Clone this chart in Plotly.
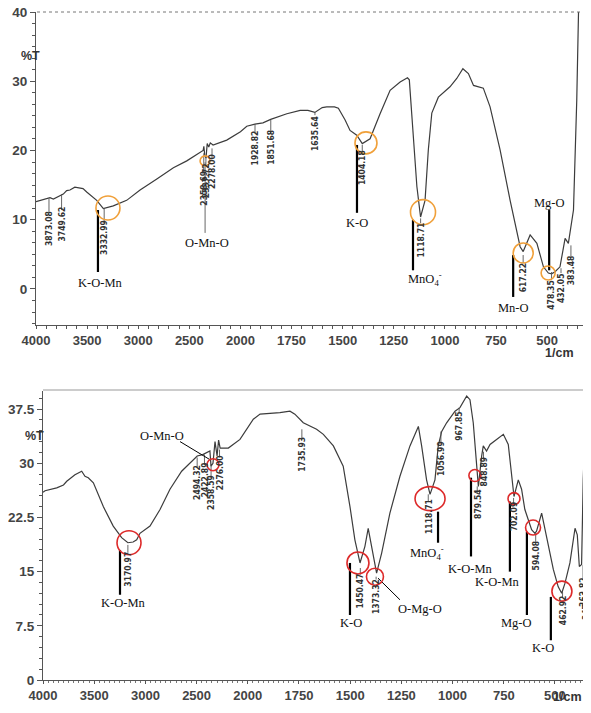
import numpy as np
import plotly.graph_objects as go

# ---------------- data (wavenumber in 1/cm, transmittance %T) ----------------
top_wn = [4000, 3863, 3830, 3733, 3700, 3668, 3620, 3570, 3540, 3504, 3406, 3341, 3300, 3244,
          3113, 2982, 2818, 2656, 2525, 2396, 2365, 2358, 2350, 2337, 2325, 2310, 2295, 2268,
          2134, 2000, 1969, 1929, 1890, 1852, 1800, 1773, 1708, 1670, 1636, 1600, 1578, 1540,
          1521, 1488, 1464, 1431, 1404, 1366, 1317, 1268, 1219, 1183, 1174, 1154, 1137, 1119,
          1097, 1081, 1064, 1032, 975, 942, 912, 885, 860, 812, 779, 730, 681, 632, 617, 583,
          550, 518, 494, 478, 461, 437, 412, 396, 371, 355, 343]
top_T = [12.6, 13.2, 13.0, 13.7, 14.2, 14.3, 14.7, 14.6, 14.5, 14.0, 12.8, 11.6, 11.8, 12.0,
         12.8, 14.3, 15.9, 17.5, 18.5, 19.7, 20.0, 20.6, 19.4, 18.9, 21.0, 20.5, 21.1, 20.8,
         21.5, 22.7, 23.5, 23.8, 24.0, 24.5, 25.0, 25.3, 25.8, 25.8, 25.5, 26.2, 26.3, 26.3,
         26.1, 24.4, 22.9, 22.2, 21.0, 21.7, 25.3, 28.7, 29.9, 30.5, 30.2, 21.5, 14.8, 10.4,
         12.8, 20.1, 25.4, 27.7, 29.2, 30.4, 31.8, 31.1, 29.4, 29.0, 26.3, 20.1, 12.8, 6.1, 5.4, 7.8,
         6.6, 3.2, 2.3, 2.2, 2.5, 3.2, 7.3, 6.6, 11.4, 27.3, 45.0]

bot_wn = [4000, 3980, 3866, 3800, 3768, 3720, 3688, 3622, 3590, 3558, 3508, 3411, 3314, 3232,
          3171, 3120, 3085, 3053, 2955, 2857, 2760, 2646, 2548, 2494, 2440, 2400, 2370, 2359,
          2340, 2320, 2300, 2285, 2270, 2190, 2076, 1973, 1940, 1843, 1794, 1770, 1745, 1729,
          1664, 1631, 1582, 1534, 1501, 1477, 1452, 1428, 1412, 1395, 1371, 1346, 1306, 1257,
          1208, 1167, 1151, 1127, 1110, 1086, 1070, 1053, 1029, 988, 964, 931, 915, 899, 882,
          874, 858, 850, 834, 817, 785, 752, 728, 711, 700, 679, 663, 647, 630, 614, 598, 590,
          565, 541, 508, 484, 467, 451, 427, 402, 391, 381, 370, 362, 354, 346, 337, 330]
bot_T = [26.0, 26.2, 26.6, 27.0, 27.5, 28.0, 28.4, 28.9, 28.2, 28.0, 27.3, 24.0, 21.3, 19.7,
         19.0, 19.1, 19.4, 20.3, 21.3, 23.6, 26.4, 28.9, 30.3, 31.0, 31.2, 31.5, 31.7, 29.6,
         30.0, 33.0, 31.0, 33.2, 32.1, 32.1, 33.3, 36.1, 36.8, 37.0, 37.2, 36.8, 36.1, 35.6,
         34.7, 34.0, 32.4, 29.6, 24.0, 19.4, 16.2, 18.5, 21.0, 18.5, 14.8, 17.6, 23.1, 28.2,
         32.4, 35.1, 32.4, 27.7, 25.7, 27.7, 32.4, 34.4, 35.6, 37.2, 37.7, 39.3, 38.8, 35.6, 28.7,
         26.8, 31.0, 32.4, 31.7, 32.6, 33.3, 34.0, 32.6, 28.7, 25.4, 27.7, 26.4, 23.6, 22.2, 20.8, 20.3, 20.6,
         23.1, 19.9, 15.3, 12.9, 12.0, 13.4, 16.2, 21.0, 20.1, 15.7, 16.0, 27.7, 34.2, 30.0, 34.7, 37.0]

x_tick_labels = [4000, 3500, 3000, 2500, 2000, 1750, 1500, 1250, 1000, 750, 500]
top_y_ticks = [0, 10, 20, 30, 40]
bot_y_ticks = [0, 7.5, 15, 22.5, 30, 37.5]

top_peaks = [3873.08, 3749.62, 3332.99, 2358.69, 2337.72, 2278.00, 1928.82, 1851.68, 1635.64,
             1404.18, 1118.71, 617.22, 478.35, 432.05, 383.48, 300.00]
bot_peaks = [3170.97, 2494.32, 2422.89, 2358.59, 2276.00, 1735.93, 1450.47, 1373.32, 1118.71,
             1056.99, 967.85, 879.54, 848.89, 702.09, 594.08, 462.92, 362.82, 347.19]

top_groups = ["K-O-Mn", "O-Mn-O", "K-O", "MnO<sub>4</sub><sup>-</sup>", "Mn-O", "Mg-O"]
bot_groups = ["K-O-Mn", "O-Mn-O", "K-O", "O-Mg-O", "MnO<sub>4</sub><sup>-</sup>", "K-O-Mn",
              "K-O-Mn", "Mg-O", "K-O"]

# ---------------- layout helpers (positions / styles) ----------------
def to_u(w):
    """Shimadzu style axis: 4000-2000 compressed 2x relative to 2000-300."""
    w = np.asarray(w, dtype=float)
    return np.where(w > 2000, 2000 + (w - 2000) / 2.0, w)

# label text centre %T, tick line top, tick line bottom
top_peak_pos = [(8.8, 13.1, 11.0), (9.4, 13.7, 11.4), (7.4, 11.7, 9.5), (14.6, 19.6, 16.7),
                (15.7, 19.3, 17.6), (16.9, 20.3, 18.9), (20.3, 23.8, 22.5), (20.5, 24.4, 22.5),
                (22.5, 25.5, 25.1), (17.5, 20.8, 19.8), (7.1, 10.2, 9.5), (1.7, 4.9, 3.75),
                (-0.9, 2.45, 1.3), (0.14, 3.0, 2.3), (2.7, 6.3, 4.6), (12.4, None, None)]
bot_peak_pos = [(15.4, 18.7, 17.6), (27.3, 30.8, 29.4), (27.7, 31.2, 29.8), (25.9, 29.8, 28.0),
                (28.7, 31.9, 30.8), (31.3, 34.7, 33.3), (12.3, 15.5, 14.6), (11.5, 14.3, 13.9),
                (22.6, 25.7, 24.7), (30.7, 34.4, 32.9), (35.2, 37.7, 37.0), (24.4, 26.8, 25.9),
                (28.8, 31.6, 30.5), (22.6, 25.2, 24.3), (17.2, 20.4, 19.0), (9.6, 12.2, 11.4),
                (12.2, 15.9, 13.9), (10.4, 13.2, 12.1)]

# group label (w, T), pointer line (w1, T1, w2, T2, width, colour)
top_group_pos = [(3374, 0.9), (2327, 6.6), (1430, 9.5), (1097, 1.4), (666, -2.7), (490, 12.4)]
top_group_lines = [(3394, 11.4, 3394, 2.45, 2.2, "black"), (2346, 18.3, 2346, 8.1, 1.0, "#666"),
                   (1430, 20.8, 1430, 11.0, 2.2, "black"), (1156, 10.0, 1156, 2.7, 2.2, "black"),
                   (666, 4.9, 666, -1.15, 2.2, "black"), (490, 11.4, 490, 2.7, 2.2, "black")]
bot_group_pos = [(3219, 10.7), (2838, 33.8), (1496, 7.9), (1159, 9.85), (1125, 17.6),
                 (915, 15.4), (783, 13.6), (686, 7.9), (559, 4.4)]
bot_group_lines = [(3248, 18.0, 3248, 11.8, 2.2, "black"), (2662, 33.0, 2370, 30.5, 1.0, "black"),
                   (1501, 16.2, 1501, 9.0, 2.2, "black"), (1364, 14.1, 1257, 11.1, 1.0, "black"),
                   (1071, 23.3, 1071, 19.0, 2.2, "black"), (910, 28.0, 910, 17.1, 2.2, "black"),
                   (720, 24.7, 720, 15.0, 2.2, "black"), (637, 20.5, 637, 9.0, 2.2, "black"),
                   (520, 11.5, 520, 5.5, 2.2, "black")]

# highlight circles (w, T, rx px, ry px)
top_circles = [(3296, 11.7, 12, 12), (2346, 18.5, 5, 5), (1386, 21.1, 11, 11),
               (1107, 11.1, 12.5, 12.5), (617, 5.2, 10, 10), (495, 2.3, 7, 7)]
bot_circles = [(3160, 19.0, 12, 12), (2340, 29.8, 6, 6), (1462, 16.2, 11, 11), (1379, 14.3, 8.5, 8.5),
               (1110, 25.1, 15, 12), (891, 28.3, 6, 6), (700, 25.1, 6, 6), (607, 21.1, 7.5, 7.5),
               (466, 12.3, 10, 10)]

W, H = 591, 713
OFF = 8  # the page body adds an 8px margin around the figure
def px(x):
    return (x - OFF) / W
def py(y):
    return 1 - (y - OFF) / H

SPEC = "#3c3c3c"
AXC = "#555555"
TXT = "#333333"
NUMFONT = "Liberation Sans Narrow, DejaVu Sans Condensed, Arial Narrow, sans-serif"
SERIF = "Liberation Serif, Times New Roman, serif"
SANS = "Liberation Sans, Arial, sans-serif"

fig = go.Figure()
fig.add_trace(go.Scatter(x=to_u(top_wn), y=top_T, mode="lines", xaxis="x", yaxis="y",
                         line=dict(color=SPEC, width=1.2), showlegend=False, hoverinfo="skip"))
fig.add_trace(go.Scatter(x=to_u(bot_wn), y=bot_T, mode="lines", xaxis="x2", yaxis="y2",
                         line=dict(color=SPEC, width=1.2), showlegend=False, hoverinfo="skip"))

annotations = []
shapes = []

def add_panel(peaks, peak_pos, groups, group_pos, group_lines, circles, xr, yr, circ_col):
    for w, (tc, l1, l2) in zip(peaks, peak_pos):
        annotations.append(dict(x=float(to_u(w)), y=tc, xref=xr, yref=yr, text=f"{w:.2f}",
                                textangle=-90, showarrow=False,
                                font=dict(family=NUMFONT, size=8.5, color=TXT, weight="bold")))
        if l1 is not None:
            xu = float(to_u(w))
            shapes.append(dict(type="line", xref=xr, yref=yr, x0=xu, x1=xu, y0=l1, y1=l2,
                               line=dict(color="#555", width=0.9)))
    for g, (w, t) in zip(groups, group_pos):
        annotations.append(dict(x=float(to_u(w)), y=t, xref=xr, yref=yr, text=g, showarrow=False,
                                font=dict(family=SERIF, size=12.5, color="#111")))
    for (w1, t1, w2, t2, lw, c) in group_lines:
        shapes.append(dict(type="line", xref=xr, yref=yr, x0=float(to_u(w1)), x1=float(to_u(w2)),
                           y0=t1, y1=t2, line=dict(color=c, width=lw)))
    for (w, t, rx, ry) in circles:
        shapes.append(dict(type="circle", xref=xr, yref=yr, xsizemode="pixel", ysizemode="pixel",
                           xanchor=float(to_u(w)), yanchor=t, x0=-rx, x1=rx, y0=-ry, y1=ry,
                           line=dict(color=circ_col, width=1.6)))

add_panel(top_peaks, top_peak_pos, top_groups, top_group_pos, top_group_lines, top_circles,
          "x", "y", "#f0a03a")
add_panel(bot_peaks, bot_peak_pos, bot_groups, bot_group_pos, bot_group_lines, bot_circles,
          "x2", "y2", "#dd2a2a")

# frame lines
shapes.append(dict(type="line", xref="paper", yref="paper", x0=px(37), x1=px(588), y0=py(12), y1=py(12),
                   line=dict(color="#777", width=1, dash="dot")))
shapes.append(dict(type="line", xref="paper", yref="paper", x0=px(588), x1=px(588), y0=py(12), y1=py(325),
                   line=dict(color="#777", width=1.2)))
shapes.append(dict(type="line", xref="paper", yref="paper", x0=px(43), x1=px(591), y0=py(390), y1=py(390),
                   line=dict(color="#999", width=1.2)))

# axis titles
for (x, y, t) in [(19, 47, "%T"), (23, 436, "%T"), (576, 353, "1/cm"), (584, 706, "1/cm")]:
    annotations.append(dict(x=px(x), y=py(y), xref="paper", yref="paper", text=t, showarrow=False,
                            font=dict(family=SANS, size=12.5, color=TXT, weight="bold")))

tickfont_x = dict(family=SANS, size=13, color="#444", weight="bold")
tickfont_y = dict(family=SANS, size=13.5, color="#444", weight="bold")

xcommon = dict(tickmode="array", tickvals=to_u(x_tick_labels).tolist(),
               ticktext=[str(v) for v in x_tick_labels], ticks="outside", ticklen=3,
               tickcolor=AXC, showline=True, linecolor=AXC, linewidth=1.2, showgrid=False,
               zeroline=False, tickfont=tickfont_x, fixedrange=True, automargin=False,
               ticklabeloverflow="allow")
ycommon = dict(tickmode="array", ticks="outside", ticklen=5, tickcolor=AXC, showline=True,
               linecolor=AXC, linewidth=1.2, showgrid=False, zeroline=False, tickfont=tickfont_y,
               fixedrange=True, automargin=False, ticklabeloverflow="allow")

fig.update_layout(
    width=W, height=H, margin=dict(l=0, r=0, t=0, b=0, autoexpand=False),
    paper_bgcolor="white", plot_bgcolor="white",
    xaxis=dict(domain=[px(36), px(588)], range=[3000, 300], anchor="y",
               minor=dict(dtick=50, tick0=0, ticks="outside", ticklen=2.5, tickcolor=AXC), **xcommon),
    yaxis=dict(domain=[py(325), py(12)], range=[-5.2, 40], anchor="x", tickvals=top_y_ticks,
               minor=dict(dtick=10 / 6, tick0=0, ticks="outside", ticklen=3, tickcolor=AXC),
               **ycommon),
    xaxis2=dict(domain=[px(43), px(591)], range=[3000, 324], anchor="y2",
                minor=dict(dtick=25, tick0=0, ticks="outside", ticklen=2, tickcolor="#777"), **xcommon),
    yaxis2=dict(domain=[py(680), py(391)], range=[0, 40], anchor="x2", tickvals=bot_y_ticks,
                ticktext=["0", "7.5", "15", "22.5", "30", "37.5"],
                minor=dict(dtick=1.5, tick0=0, ticks="outside", ticklen=3, tickcolor=AXC),
                **ycommon),
    annotations=annotations, shapes=shapes,
)

fig.write_html("out.html")
